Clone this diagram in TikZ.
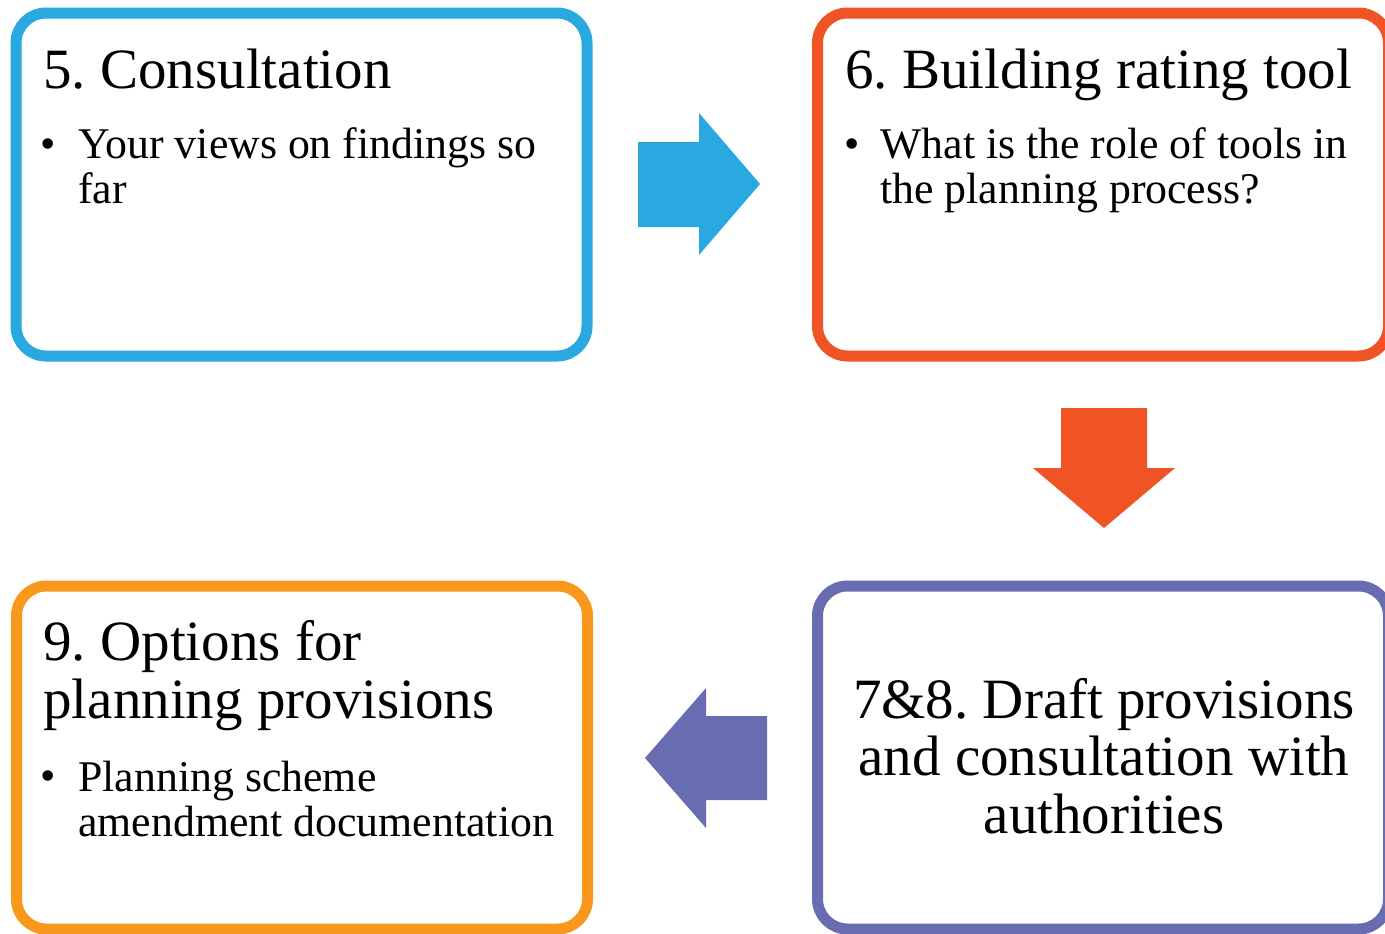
\documentclass[tikz,border=0pt]{standalone}
\usepackage{fontspec}
\setmainfont{Liberation Serif}
\frenchspacing

\definecolor{cblue}{RGB}{41,169,224}
\definecolor{cred}{RGB}{240,84,36}
\definecolor{corange}{RGB}{248,152,29}
\definecolor{cpurple}{RGB}{104,108,176}

\begin{document}
\begin{tikzpicture}[x=0.5pt,y=-0.5pt,
  stage/.style={draw=#1,line width=5.5pt,rounded corners=15pt,minimum width=285.5pt,minimum height=171.5pt,inner sep=0pt},
  heading/.style={anchor=base west,inner sep=0pt,align=left,font=\fontsize{28.5pt}{29pt}\selectfont},
  point/.style={anchor=base west,inner sep=0pt,align=left,font=\fontsize{21.9pt}{22.5pt}\selectfont}]
  \useasboundingbox (0,0) rectangle (1385,933);
  % the four stages
  \node[stage=cblue] (consult) at (301.5,184.5) {};
  \node[stage=cred] (tool) at (1103,184.5) {};
  \node[stage=cpurple] (draft) at (1103,757.5) {};
  \node[stage=corange] (options) at (302,757.5) {};
  % 5. (multi-line nodes sit on their last line)
  \node[heading] (consult-title) at (43,88) {5. Consultation};
  \node[point] (consult-dot) at (40,158) {\textbullet};
  \node[point] (consult-text) at (78,203) {Your views on findings so\\far};
  % 6.
  \node[heading] (tool-title) at (845,88) {6. Building rating tool};
  \node[point] (tool-dot) at (844,158) {\textbullet};
  \node[point] (tool-text) at (880,203) {What is the role of tools in\\the planning process?};
  % 7&8.
  \node[heading,anchor=base,align=center,font=\fontsize{28.5pt}{28.75pt}\selectfont] (draft-text) at (1104,833)
    {7\&8. Draft provisions\\and consultation with\\authorities};
  % 9.
  \node[heading] (options-title) at (43,718) {9. Options for\\planning provisions};
  \node[point] (options-dot) at (40,790) {\textbullet};
  \node[point] (options-text) at (78,836) {Planning scheme\\amendment documentation};
  %Show the flow:
  \fill[cblue] (638,142) -- (699,142) -- (699,113) -- (760,184) -- (699,255) -- (699,227) -- (638,227) -- cycle;
  \fill[cred] (1061,408) -- (1147,408) -- (1147,468) -- (1175,468) -- (1104,528) -- (1033,468) -- (1061,468) -- cycle;
  \fill[cpurple] (767,716) -- (706,716) -- (706,688) -- (645,758) -- (706,828) -- (706,800) -- (767,800) -- cycle;
\end{tikzpicture}
\end{document}
